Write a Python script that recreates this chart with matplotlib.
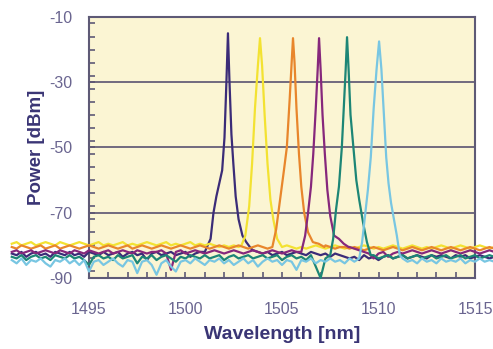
import numpy as np
import matplotlib
matplotlib.use('Agg')
import matplotlib.pyplot as plt
from matplotlib.ticker import MultipleLocator

# Rejilla común del ruido de fondo (nm)
noise_wl = np.arange(1491.0, 1516.01, 0.25)

# Ruido de fondo de cada canal (dBm)
noise_dark = [-82.5, -83.0, -82.0, -83.5, -82.5, -82.0, -83.0, -82.5, -83.5, -82.0,
              -82.5, -83.0, -82.0, -83.0, -82.5, -83.5, -82.0, -82.5, -83.0, -82.0,
              -83.0, -82.5, -82.0, -83.5, -82.5, -82.0, -83.0, -82.5, -84.5, -82.5,
              -82.0, -83.0, -82.5, -82.0, -83.0, -82.5, -82.0, -83.5, -82.5, -82.0,
              -82.5, -82.0, -82.0, -82.0, -82.0, -82.0, -82.0, -82.0, -82.0, -82.0,
              -81.5, -82.0, -82.5, -82.0, -83.0, -82.5, -82.0, -83.0, -82.5, -82.0,
              -82.5, -83.0, -82.0, -82.5, -83.0, -82.5, -83.5, -82.5, -83.0, -83.5,
              -84.0, -83.5, -84.5, -83.0, -84.0, -83.5, -84.5, -83.5, -83.0, -84.0,
              -83.5, -83.0, -84.0, -83.5, -83.0, -83.5, -84.0, -83.0, -83.5, -83.0,
              -83.5, -84.0, -83.0, -83.5, -83.0, -84.0, -83.5, -83.0, -83.5, -84.0,
              -83.5]
noise_yellow = [-79.5, -79.0, -80.0, -79.5, -79.0, -80.0, -79.5, -79.0, -79.5, -80.0,
                -79.0, -79.5, -80.0, -79.5, -79.0, -79.5, -80.0, -79.5, -79.0, -80.0,
                -79.5, -80.0, -79.5, -79.0, -80.0, -79.5, -80.0, -79.5, -79.0, -79.5,
                -80.0, -79.5, -79.0, -80.0, -79.5, -80.0, -79.5, -79.0, -80.0, -79.5,
                -80.0, -79.5, -80.0, -80.5, -80.0, -80.5, -80.0, -80.5, -80.0, -80.0,
                -80.0, -80.0, -80.0, -80.0, -80.0, -80.0, -80.5, -80.0, -80.5, -81.0,
                -80.5, -81.0, -80.5, -80.0, -80.5, -81.0, -80.5, -80.0, -80.5, -81.0,
                -80.5, -81.0, -80.5, -80.0, -80.5, -81.0, -80.5, -81.0, -80.5, -80.0,
                -80.5, -81.0, -80.5, -80.0, -80.5, -81.0, -80.5, -81.0, -80.5, -80.0,
                -80.5, -81.0, -80.5, -80.0, -80.5, -81.0, -80.5, -80.0, -80.5, -81.0,
                -80.5]
noise_orange = [-80.5, -81.0, -80.0, -80.5, -81.0, -80.5, -80.0, -81.0, -80.5, -80.0,
                -81.0, -80.5, -80.0, -80.5, -81.0, -80.5, -80.0, -80.5, -81.0, -80.5,
                -80.0, -80.5, -81.0, -80.5, -80.0, -81.0, -80.5, -80.0, -80.5, -81.0,
                -80.5, -80.0, -80.5, -81.0, -80.5, -80.0, -80.5, -81.0, -80.5, -80.0,
                -80.5, -81.0, -80.5, -80.0, -80.5, -81.0, -80.5, -80.0, -80.5, -81.0,
                -80.5, -80.0, -80.5, -81.0, -80.5, -80.5, -80.5, -80.5, -80.5, -80.5,
                -80.5, -80.5, -80.5, -80.5, -80.5, -80.0, -80.5, -81.0, -80.5, -80.5,
                -81.0, -80.5, -81.0, -81.5, -81.0, -80.5, -81.0, -81.5, -81.0, -80.5,
                -81.0, -81.5, -81.0, -80.5, -81.0, -81.5, -81.0, -80.5, -81.0, -81.5,
                -81.0, -80.5, -81.0, -81.5, -81.0, -80.5, -81.0, -81.5, -81.0, -80.5,
                -81.0]
noise_purple = [-82.0, -81.5, -82.5, -82.0, -81.5, -82.5, -82.0, -81.5, -82.0, -82.5,
                -81.5, -82.0, -82.5, -81.5, -82.0, -82.5, -81.5, -82.0, -82.5, -82.0,
                -81.5, -82.5, -82.0, -81.5, -82.0, -82.5, -81.5, -82.0, -82.5, -82.0,
                -82.0, -81.5, -82.5, -87.5, -82.0, -81.5, -82.5, -82.0, -81.5, -82.0,
                -82.5, -82.0, -81.5, -82.0, -82.5, -82.0, -81.5, -82.0, -82.5, -82.0,
                -81.5, -82.0, -82.5, -82.0, -81.5, -82.0, -82.5, -82.0, -81.5, -82.0,
                -82.0, -82.0, -82.0, -82.0, -82.0, -82.0, -82.0, -82.0, -82.0, -82.0,
                -80.5, -81.0, -81.5, -82.0, -82.5, -84.0, -82.5, -82.0, -83.5, -82.5,
                -82.0, -82.5, -82.0, -81.5, -82.0, -82.5, -82.0, -81.5, -82.0, -82.5,
                -82.0, -81.5, -82.0, -82.5, -82.0, -81.5, -82.0, -82.5, -82.0, -81.5,
                -82.0]
noise_teal = [-83.5, -84.0, -83.0, -84.5, -83.5, -83.0, -84.0, -83.5, -84.5, -83.0,
              -83.5, -84.0, -83.0, -84.0, -83.5, -84.5, -86.0, -83.5, -83.0, -84.0,
              -83.5, -84.5, -83.0, -84.0, -83.5, -83.0, -85.5, -83.5, -84.0, -83.0,
              -84.5, -83.5, -83.0, -84.0, -85.0, -83.5, -84.0, -83.0, -83.5, -84.0,
              -83.0, -84.0, -83.5, -83.0, -84.5, -83.5, -83.0, -84.0, -83.5, -83.0,
              -84.0, -83.5, -83.0, -84.0, -83.5, -83.0, -84.5, -83.5, -83.0, -84.0,
              -83.5, -84.5, -83.0, -86.5, -90.0, -84.0, -83.0, -83.5, -83.0, -83.5,
              -83.0, -83.5, -83.0, -83.0, -83.5, -83.0, -84.0, -83.5, -83.0, -84.0,
              -83.5, -83.0, -84.0, -83.5, -83.0, -84.0, -83.5, -83.0, -84.0, -83.5,
              -83.0, -84.0, -83.5, -83.0, -84.0, -83.5, -83.0, -84.0, -83.5, -83.0,
              -83.5]
noise_light = [-84.5, -85.5, -84.0, -86.0, -84.5, -85.0, -84.0, -85.5, -86.5, -84.5,
               -85.0, -84.0, -85.5, -84.5, -86.0, -84.5, -88.0, -85.0, -84.5, -86.0,
               -85.0, -84.0, -85.5, -86.5, -84.5, -85.0, -88.5, -85.0, -84.5, -86.0,
               -89.0, -85.5, -84.5, -86.5, -88.0, -85.0, -84.5, -85.5, -84.0, -85.0,
               -86.0, -84.5, -85.0, -84.0, -85.5, -84.5, -86.0, -85.0, -84.0, -85.5,
               -84.5, -86.5, -85.0, -84.0, -85.0, -84.5, -86.0, -84.5, -85.0, -87.5,
               -84.5, -85.0, -84.0, -85.5, -84.5, -85.0, -84.0, -85.0, -84.5, -85.5,
               -84.0, -85.0, -84.5, -85.0, -84.0, -85.0, -84.5, -85.0, -84.0, -84.5,
               -84.5, -84.0, -85.0, -84.5, -85.5, -84.0, -85.0, -84.5, -85.5, -84.0,
               -85.0, -84.5, -85.0, -84.0, -85.5, -84.5, -85.0, -84.0, -85.0, -84.5,
               -85.0]

# Picos de cada canal: longitud de onda (nm) y potencia (dBm)
peak_dark_wl = [1501.0, 1501.3, 1501.45, 1501.6, 1501.75, 1501.9, 1502.02, 1502.12, 1502.2,
                1502.28, 1502.38, 1502.48, 1502.6, 1502.75, 1502.95, 1503.15, 1503.4]
peak_dark_db = [-82, -78, -70, -65, -61, -57, -47, -30, -15,
                -30, -46, -55, -65, -72, -77, -79, -81]
peak_yellow_wl = [1502.9, 1503.1, 1503.3, 1503.45, 1503.6, 1503.75, 1503.86,
                  1503.97, 1504.1, 1504.25, 1504.4, 1504.55, 1504.75, 1504.95]
peak_yellow_db = [-80, -77, -68, -55, -38, -25, -16.5, -25, -40, -55, -66, -72, -78, -80]
peak_orange_wl = [1504.5, 1504.7, 1504.9, 1505.1, 1505.25, 1505.4, 1505.5, 1505.57, 1505.65,
                  1505.75, 1505.88, 1506.0, 1506.15, 1506.35, 1506.6, 1506.9, 1507.2]
peak_orange_db = [-80.5, -75, -66, -57, -50, -35, -24, -16.5, -24,
                  -38, -52, -62, -70, -76, -79, -79.5, -80.5]
peak_purple_wl = [1506.0, 1506.2, 1506.35, 1506.5, 1506.62, 1506.75, 1506.85, 1506.92, 1507.0,
                  1507.1, 1507.22, 1507.35, 1507.5, 1507.7, 1507.95, 1508.2, 1508.45]
peak_purple_db = [-82, -77, -70, -62, -52, -38, -26, -16.5, -26,
                  -40, -52, -63, -71, -77, -78, -79.5, -80.5]
peak_teal_wl = [1507.5, 1507.65, 1507.8, 1507.95, 1508.1, 1508.2, 1508.3, 1508.37,
                1508.45, 1508.55, 1508.7, 1508.85, 1509.0, 1509.2, 1509.4, 1509.6]
peak_teal_db = [-83, -78, -69, -62, -50, -38, -26, -16.2, -26, -40, -50, -60, -66, -73, -79, -83]
peak_light_wl = [1509.0, 1509.15, 1509.3, 1509.45, 1509.6, 1509.75, 1509.9, 1510.03,
                 1510.15, 1510.28, 1510.4, 1510.52, 1510.65, 1510.8, 1510.95, 1511.1]
peak_light_db = [-84, -79, -71, -63, -53, -38, -26, -17.5, -26, -40, -53, -61, -67, -72, -77, -83]

channels = [
    (noise_dark, peak_dark_wl, peak_dark_db, '#3b2c78'),
    (noise_yellow, peak_yellow_wl, peak_yellow_db, '#f3e232'),
    (noise_orange, peak_orange_wl, peak_orange_db, '#e8862c'),
    (noise_purple, peak_purple_wl, peak_purple_db, '#86287c'),
    (noise_teal, peak_teal_wl, peak_teal_db, '#1d8676'),
    (noise_light, peak_light_wl, peak_light_db, '#78c6e2'),
]

plt.rcParams['font.family'] = ['Liberation Sans', 'DejaVu Sans']
plt.rcParams['axes.unicode_minus'] = False

fig = plt.figure(figsize=(4.93, 3.49), dpi=100)
ax = fig.add_axes([0.1805, 0.2034, 0.783, 0.748])
ax.set_facecolor('#fbf5d3')

for noise, pwl, pdb, color in channels:
    noise = np.array(noise)
    # se quitan los puntos del ruido que caen dentro del pico
    left = noise_wl < pwl[0]
    right = noise_wl > pwl[-1]
    wl = np.concatenate([noise_wl[left], pwl, noise_wl[right]])
    db = np.concatenate([noise[left], pdb, noise[right]])
    ax.plot(wl, db, color=color, lw=1.6, clip_on=False, zorder=5)

ax.set_xlim(1495, 1515)
ax.set_ylim(-90, -10)
ax.set_xticks([1495, 1500, 1505, 1510, 1515])
ax.set_yticks([-90, -70, -50, -30, -10])
ax.xaxis.set_minor_locator(MultipleLocator(1))
ax.yaxis.set_minor_locator(MultipleLocator(4))

for y in [-30, -50, -70]:
    ax.axhline(y, color='#5a5270', lw=1.2, zorder=2)

for s in ax.spines.values():
    s.set_color('#5e5a76')
    s.set_linewidth(1.5)
    s.set_zorder(4)

tick_col = '#6a6590'
ax.tick_params(axis='both', which='both', direction='in', color='#5e5a76',
               length=4, width=1.2, labelcolor=tick_col, labelsize=11.5)
ax.tick_params(axis='x', which='both', top=False, pad=17)
ax.tick_params(axis='y', which='both', right=False, pad=12)

lab_col = '#3a3575'
ax.set_xlabel('Wavelength [nm]', fontsize=14, fontweight='bold', color=lab_col, labelpad=7)
ax.set_ylabel('Power [dBm]', fontsize=13.5, fontweight='bold', color=lab_col, labelpad=3)

fig.savefig('out.png', dpi=100)
